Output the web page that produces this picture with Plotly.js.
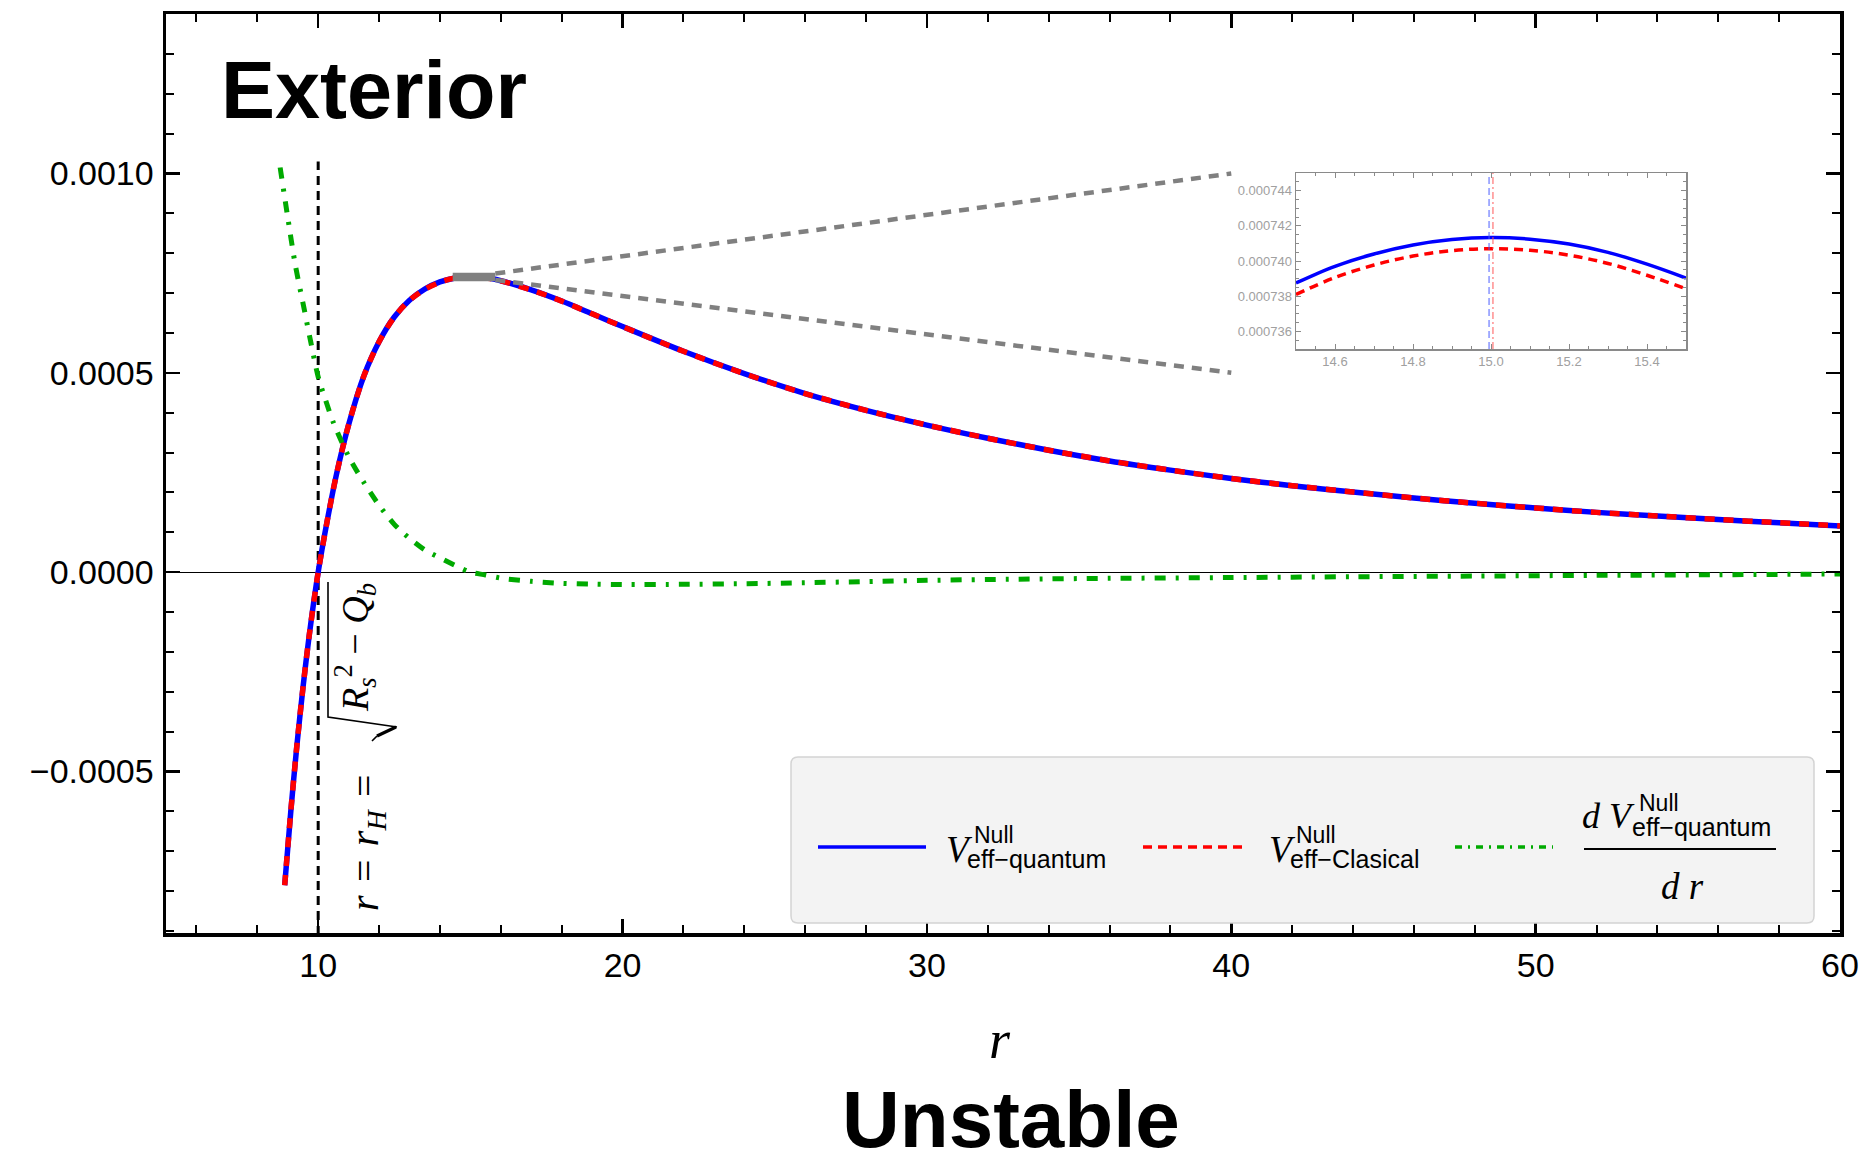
<!DOCTYPE html>
<html><head><meta charset="utf-8">
<script src="https://cdn.plot.ly/plotly-3.0.1.min.js"></script>
<style>html,body{margin:0;padding:0;background:#fff;}#chart{width:1861px;height:1163px;}</style>
</head><body><div id="chart"></div>
<script>
// ---------- data ----------
const rMain = [8.9, 9.1, 9.3, 9.5, 9.7, 10.0, 10.3, 10.6, 11.0, 11.5, 12.0, 12.5, 13.0, 13.5, 14.0, 14.5, 15.0, 15.5, 16.0, 17.0, 18.0, 19.0, 20.0, 22.0, 24.0, 26.0, 28.0, 30.0, 32.0, 34.0, 36.0, 38.0, 40.0, 42.0, 44.0, 46.0, 48.0, 50.0, 52.0, 54.0, 56.0, 58.0, 60.0];
const vQuantum = [-7.85e-4, -6.0e-4, -4.35e-4, -2.9e-4, -1.62e-4, 0, 1.3e-4, 2.45e-4, 3.7e-4, 4.92e-4, 5.78e-4, 6.4e-4, 6.82e-4, 7.1e-4, 7.28e-4, 7.38e-4, 7.413e-4, 7.39e-4, 7.31e-4, 7.08e-4, 6.8e-4, 6.48e-4, 6.16e-4, 5.54e-4, 4.98e-4, 4.48e-4, 4.06e-4, 3.69e-4, 3.36e-4, 3.06e-4, 2.79e-4, 2.56e-4, 2.35e-4, 2.17e-4, 2.01e-4, 1.86e-4, 1.73e-4, 1.61e-4, 1.5e-4, 1.41e-4, 1.32e-4, 1.24e-4, 1.16e-4];
const vClassical = [-7.85e-4, -6.0e-4, -4.35e-4, -2.9e-4, -1.62e-4, 0, 1.3e-4, 2.45e-4, 3.7e-4, 4.92e-4, 5.78e-4, 6.4e-4, 6.82e-4, 7.095e-4, 7.274e-4, 7.381e-4, 7.407e-4, 7.384e-4, 7.305e-4, 7.08e-4, 6.8e-4, 6.48e-4, 6.16e-4, 5.54e-4, 4.98e-4, 4.48e-4, 4.06e-4, 3.69e-4, 3.36e-4, 3.06e-4, 2.79e-4, 2.56e-4, 2.35e-4, 2.17e-4, 2.01e-4, 1.86e-4, 1.73e-4, 1.61e-4, 1.5e-4, 1.41e-4, 1.32e-4, 1.24e-4, 1.16e-4];
const rDeriv = [8.75, 9.0, 9.25, 9.5, 9.75, 10.0, 10.25, 10.5, 11.0, 11.5, 12.0, 12.5, 13.0, 13.5, 14.0, 14.5, 15.0, 15.5, 16.0, 17.0, 18.0, 19.0, 20.0, 22.0, 24.0, 26.0, 28.0, 30.0, 33.0, 36.0, 40.0, 44.0, 48.0, 52.0, 56.0, 60.0];
const dVdr = [10.15e-4, 8.9e-4, 7.7e-4, 6.75e-4, 5.8e-4, 4.9e-4, 4.3e-4, 3.75e-4, 2.9e-4, 2.25e-4, 1.68e-4, 1.2e-4, 0.85e-4, 0.56e-4, 0.36e-4, 0.17e-4, 0.0, -0.07e-4, -0.15e-4, -0.23e-4, -0.28e-4, -0.3e-4, -0.31e-4, -0.305e-4, -0.29e-4, -0.265e-4, -0.235e-4, -0.205e-4, -0.175e-4, -0.155e-4, -0.135e-4, -0.115e-4, -0.098e-4, -0.08e-4, -0.065e-4, -0.045e-4];

const rInset = [14.5, 14.6, 14.7, 14.8, 14.9, 15.0, 15.1, 15.2, 15.3, 15.4, 15.5];
const vQuantumInset = [7.3875e-4, 7.3970e-4, 7.4040e-4, 7.4091e-4, 7.4122e-4, 7.4133e-4, 7.4124e-4, 7.4096e-4, 7.4049e-4, 7.3982e-4, 7.3903e-4];
const vClassicalInset = [7.3810e-4, 7.3906e-4, 7.3977e-4, 7.4028e-4, 7.4059e-4, 7.4070e-4, 7.4061e-4, 7.4033e-4, 7.3986e-4, 7.3919e-4, 7.3842e-4];
const insetPeakR = [14.995, 15.005];
const insetRange = [0.000735, 0.000745];

const horizonR = 10;
const horizonLineV = [-0.00091, 0.00103];
const zoomBoxR = [14.42, 15.82];
const zoomBoxV = [0.00073, 0.000751];
const connectorEndR = 40;
const connectorEndV = [0.0010, 0.0005];

const xRange = [5, 60];
const yRange = [-0.000905, 0.0014];
const insetXRange = [14.5, 15.5];

// ---------- layout helpers (pixel -> paper) ----------
const W = 1861, H = 1163, L = 166, R = 1840, T = 14, B = 933;
const px = x => (x - L) / (R - L);
const py = y => (B - y) / (B - T);
const pt = (x, y) => px(x) + ',' + py(y);

const BLUE = 'rgb(0,0,255)', RED = 'rgb(255,0,0)', GREEN = 'rgb(0,170,0)', GRAY = 'rgb(128,128,128)';
const SANS = 'Liberation Sans, Arial, Helvetica, sans-serif';
const SERIF = 'Liberation Serif, Times New Roman, serif';
const GAP = '\u2004';

const traces = [
  {x: [horizonR, horizonR], y: horizonLineV, mode: 'lines', line: {color: 'black', width: 3, dash: '9px,6px'}, hoverinfo: 'skip'},
  {x: rMain, y: vQuantum, mode: 'lines', name: 'V quantum', line: {color: BLUE, width: 5.5, shape: 'spline', smoothing: 0.8}},
  {x: rMain, y: vClassical, mode: 'lines', name: 'V classical', line: {color: RED, width: 5.5, dash: '10px,9px', shape: 'spline', smoothing: 0.8}},
  {x: rDeriv, y: dVdr, mode: 'lines', name: 'dV/dr', line: {color: GREEN, width: 5, dash: '11px,10px,3px,10px', shape: 'spline', smoothing: 0.8}},
  {x: [zoomBoxR[1], connectorEndR], y: [zoomBoxV[1] - 0.000002, connectorEndV[0]], mode: 'lines', line: {color: GRAY, width: 4.5, dash: '10px,8px'}},
  {x: [zoomBoxR[1], connectorEndR], y: [zoomBoxV[0] + 0.000003, connectorEndV[1]], mode: 'lines', line: {color: GRAY, width: 4.5, dash: '10px,8px'}},
  {x: [zoomBoxR[0], zoomBoxR[1], zoomBoxR[1], zoomBoxR[0], zoomBoxR[0]], y: [zoomBoxV[0], zoomBoxV[0], zoomBoxV[1], zoomBoxV[1], zoomBoxV[0]], mode: 'lines', fill: 'toself', fillcolor: GRAY, line: {color: GRAY, width: 0}},
  // inset
  {x: rInset, y: vQuantumInset, xaxis: 'x2', yaxis: 'y2', mode: 'lines', line: {color: BLUE, width: 3.5, shape: 'spline'}},
  {x: rInset, y: vClassicalInset, xaxis: 'x2', yaxis: 'y2', mode: 'lines', line: {color: RED, width: 3.5, dash: '9px,6px', shape: 'spline'}},
  {x: [insetPeakR[0], insetPeakR[0]], y: insetRange, xaxis: 'x2', yaxis: 'y2', mode: 'lines', line: {color: 'rgba(70,90,255,0.8)', width: 1.2, dash: '7px,4px'}},
  {x: [insetPeakR[1], insetPeakR[1]], y: insetRange, xaxis: 'x2', yaxis: 'y2', mode: 'lines', line: {color: 'rgba(255,80,80,0.8)', width: 1.2, dash: '7px,3px,2px,3px'}}
];

const axisCommon = {
  showline: true, linecolor: 'black', linewidth: 3.5, mirror: 'allticks',
  ticks: 'inside', ticklen: 14, tickwidth: 2.5, tickcolor: 'black',
  showgrid: false, tickfont: {family: SANS, size: 34, color: 'black'}
};

// legend drawn with shapes + annotations (pixel positions)
const lb = {x0: 791, x1: 1814, y0: 757, y1: 923, r: 7};
const rx = lb.r / (R - L), ry = lb.r / (B - T);
const X0 = px(lb.x0), X1 = px(lb.x1), Y0 = py(lb.y1), Y1 = py(lb.y0);
const boxPath = `M ${X0+rx},${Y0} L ${X1-rx},${Y0} Q ${X1},${Y0} ${X1},${Y0+ry} L ${X1},${Y1-ry} Q ${X1},${Y1} ${X1-rx},${Y1} L ${X0+rx},${Y1} Q ${X0},${Y1} ${X0},${Y1-ry} L ${X0},${Y0+ry} Q ${X0},${Y0} ${X0+rx},${Y0} Z`;

// radical sign of the rotated horizon label
const radicalThin = `M ${pt(372,741)} L ${pt(377,736)} M ${pt(397,727)} L ${pt(328,717)} L ${pt(328,582)}`;
const radicalThick = `M ${pt(377,736)} L ${pt(396,727)}`;

const shapes = [
  {type: 'path', xref: 'paper', yref: 'paper', path: radicalThin, line: {color: 'black', width: 1.6}},
  {type: 'path', xref: 'paper', yref: 'paper', path: radicalThick, line: {color: 'black', width: 3.2}},
  {type: 'path', xref: 'paper', yref: 'paper', path: boxPath, fillcolor: '#f3f3f3', line: {color: '#d4d4d4', width: 1.5}, layer: 'above'},
  {type: 'line', xref: 'paper', yref: 'paper', x0: px(818), x1: px(926), y0: py(847), y1: py(847), line: {color: BLUE, width: 3.5}, layer: 'above'},
  {type: 'line', xref: 'paper', yref: 'paper', x0: px(1143), x1: px(1243), y0: py(847), y1: py(847), line: {color: RED, width: 3.5, dash: '9px,6px'}, layer: 'above'},
  {type: 'line', xref: 'paper', yref: 'paper', x0: px(1455), x1: px(1553), y0: py(847), y1: py(847), line: {color: GREEN, width: 3.5, dash: '7px,6px,2px,6px'}, layer: 'above'},
  {type: 'line', xref: 'paper', yref: 'paper', x0: px(1584), x1: px(1776), y0: py(849), y1: py(849), line: {color: 'black', width: 2}, layer: 'above'}
];

function ann(text, x, y, size, family, opts) {
  return Object.assign({text: text, xref: 'paper', yref: 'paper', x: px(x), y: py(y), showarrow: false,
    xanchor: 'left', yanchor: 'middle', font: {family: family, size: size, color: 'black'}}, opts || {});
}

const annotations = [
  ann('<b>Exterior</b>', 219, 90, 81, SANS),
  ann('<b>Unstable</b>', 1011, 1119, 80, SANS, {xanchor: 'center'}),
  ann('<i>r</i>', 1000, 1040, 54, SERIF, {xanchor: 'center'}),
  ann('<i>r</i>' + GAP + '=' + GAP + '<i>r</i><sub><i>H</i></sub>' + GAP + '=', 367, 843, 40, SERIF, {xanchor: 'center', textangle: -90}),
  ann('<i>R</i><sub><i>s</i></sub><sup>2</sup> − <i>Q</i><sub><i>b</i></sub>', 355, 648, 38, SERIF, {xanchor: 'center', textangle: -90}),
  // legend entry 1
  ann('<i>V</i>', 944, 849, 37, SERIF),
  ann('Null', 972, 835, 23, SANS),
  ann('eff−quantum', 965, 859, 25, SANS),
  // legend entry 2
  ann('<i>V</i>', 1267, 849, 37, SERIF),
  ann('Null', 1294, 835, 23, SANS),
  ann('eff−Clasical', 1288, 859, 25, SANS),
  // legend entry 3 (fraction)
  ann('<i>d V</i>', 1580, 816, 36, SERIF),
  ann('Null', 1637, 803, 23, SANS),
  ann('eff−quantum', 1630, 827, 25, SANS),
  ann('<i>d r</i>', 1682, 886, 37, SERIF, {xanchor: 'center'})
];

const layout = {
  width: W, height: H,
  margin: {l: L, r: W - R, t: T, b: H - B, pad: 0},
  paper_bgcolor: 'white', plot_bgcolor: 'white',
  showlegend: false, hovermode: false,
  xaxis: Object.assign({}, axisCommon, {
    range: xRange, tick0: 0, dtick: 10, ticklabelstandoff: 0,
    minor: {ticks: 'inside', dtick: 2, ticklen: 8, tickwidth: 2, tickcolor: 'black'},
    zeroline: false
  }),
  yaxis: Object.assign({}, axisCommon, {
    range: yRange, tick0: 0, dtick: 0.0005, tickformat: '.4f', ticklabelstandoff: 2,
    minor: {ticks: 'inside', dtick: 0.0001, ticklen: 8, tickwidth: 2, tickcolor: 'black'},
    zeroline: true, zerolinecolor: 'black', zerolinewidth: 1.2
  }),
  xaxis2: {
    domain: [px(1296), px(1686)], anchor: 'y2', range: insetXRange, tick0: 14.6, dtick: 0.2, tickformat: '.1f',
    showline: true, linecolor: '#8a8a8a', linewidth: 1.5, mirror: 'allticks',
    ticks: 'inside', ticklen: 5, tickwidth: 1, tickcolor: '#8a8a8a', showgrid: false, zeroline: false,
    minor: {ticks: 'inside', dtick: 0.05, ticklen: 3, tickwidth: 1, tickcolor: '#8a8a8a'},
    tickfont: {family: SANS, size: 13, color: '#a0a0a0'}
  },
  yaxis2: {
    domain: [py(349), py(173)], anchor: 'x2', range: insetRange, tick0: 0.000736, dtick: 0.000002, tickformat: '.6f',
    showline: true, linecolor: '#8a8a8a', linewidth: 1.5, mirror: 'allticks',
    ticks: 'inside', ticklen: 5, tickwidth: 1, tickcolor: '#8a8a8a', showgrid: false, zeroline: false,
    minor: {ticks: 'inside', dtick: 0.0000005, ticklen: 3, tickwidth: 1, tickcolor: '#8a8a8a'},
    tickfont: {family: SANS, size: 13, color: '#a0a0a0'}
  },
  shapes: shapes,
  annotations: annotations
};

Plotly.newPlot('chart', traces, layout, {displayModeBar: false, staticPlot: true});
</script>
</body></html>
